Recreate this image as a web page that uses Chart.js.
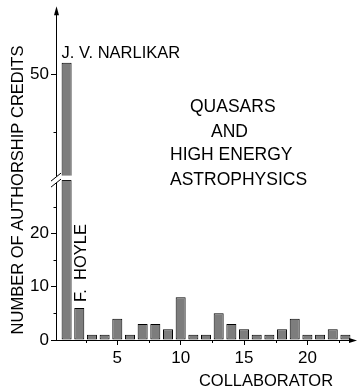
<!DOCTYPE html>
<html>
<head>
<meta charset="utf-8">
<script src="https://cdn.jsdelivr.net/npm/chart.js@4.4.1/dist/chart.umd.min.js"></script>
<style>
  html, body { margin: 0; padding: 0; background: #fff; }
  #wrap { width: 360px; height: 388px; position: relative; }
</style>
</head>
<body>
<div id="wrap"><canvas id="chart"></canvas></div>
<script>
// data
const collaborators = [1, 2, 3, 4, 5, 6, 7, 8, 9, 10, 11, 12, 13, 14, 15, 16, 17, 18, 19, 20, 21, 22, 23];
const credits       = [51, 6, 1, 1, 4, 1, 3, 3, 2, 8, 1, 1, 5, 3, 2, 1, 1, 2, 4, 1, 1, 2, 1];
const xTicks      = [5, 10, 15, 20];
const xMinorTicks = [2.5, 7.5, 12.5, 17.5, 22.5];
const yLowTicks   = [0, 10, 20];
const yLowMinor   = [5, 15, 25];
const yHighTicks  = [50];
const yHighMinor  = [45];
const barLabels   = { 1: 'J. V. NARLIKAR', 2: 'F.  HOYLE' };
const panelText   = ['QUASARS', 'AND', 'HIGH ENERGY', 'ASTROPHYSICS'];

// broken axis: lower part 0..30, upper part 40.8..55.4
const LOW_MAX = 30, HIGH_MIN = 40.8, HIGH_MAX = 55.4;

const FONT = "'Liberation Sans', Arial, Helvetica, sans-serif";
Chart.defaults.font.family = FONT;
Chart.defaults.font.size = 17;
Chart.defaults.color = '#000';

const lowData  = collaborators.map((c, i) => ({ x: c, y: Math.min(credits[i], LOW_MAX) }));
const highData = collaborators
  .map((c, i) => credits[i] > LOW_MAX ? { x: c, y: [HIGH_MIN, credits[i]] } : null)
  .filter(Boolean);

const barStyle = {
  backgroundColor: '#7d7d7d',
  borderColor: '#000',
  borderWidth: 1,
  borderSkipped: false,
  barPercentage: 0.79,
  categoryPercentage: 1,
  grouped: false
};

const axisCommon = {
  offset: false,
  grid: { drawOnChartArea: false, offset: false, tickLength: 5, tickColor: '#000', tickWidth: 1 },
  border: { display: true, color: '#000', width: 1 }
};

const decor = {
  id: 'decor',
  afterDraw(chart) {
    const ctx = chart.ctx;
    const xs = chart.scales.x, yl = chart.scales.y, yh = chart.scales.y2;
    const ax = chart.chartArea.left, bottom = chart.chartArea.bottom;
    ctx.save();
    ctx.strokeStyle = '#000';
    ctx.fillStyle = '#000';
    ctx.lineWidth = 1;

    // minor ticks
    ctx.beginPath();
    yLowMinor.forEach(v => { const p = Math.round(yl.getPixelForValue(v)) + 0.5; ctx.moveTo(ax - 2.5, p); ctx.lineTo(ax, p); });
    yHighMinor.forEach(v => { const p = Math.round(yh.getPixelForValue(v)) + 0.5; ctx.moveTo(ax - 2.5, p); ctx.lineTo(ax, p); });
    xMinorTicks.forEach(v => { const p = Math.round(xs.getPixelForValue(v)) + 0.5; ctx.moveTo(p, bottom); ctx.lineTo(p, bottom + 3); });
    ctx.stroke();

    // axis break
    const brk = yl.top;
    const bar = chart.getDatasetMeta(0).data[0];
    ctx.fillStyle = '#fff';
    ctx.fillRect(bar.x - bar.width / 2 - 1, brk - 4.5, bar.width + 2, 4.5);
    ctx.beginPath();
    ctx.moveTo(ax - 5, brk + 1); ctx.lineTo(ax + 5, brk - 7);
    ctx.lineTo(ax + 5, brk - 1); ctx.lineTo(ax - 5, brk + 7);
    ctx.closePath();
    ctx.fill();
    ctx.beginPath();
    ctx.moveTo(ax - 5, brk + 1); ctx.lineTo(ax + 5, brk - 7);
    ctx.moveTo(ax - 5, brk + 7); ctx.lineTo(ax + 5, brk - 1);
    ctx.stroke();

    // arrows
    ctx.fillStyle = '#000';
    const top = chart.chartArea.top, right = chart.chartArea.right;
    ctx.beginPath(); ctx.moveTo(ax + 0.5, top); ctx.lineTo(ax + 0.5, top - 4); ctx.stroke();
    ctx.beginPath(); ctx.moveTo(ax + 0.5, top - 6); ctx.lineTo(ax - 2, top + 3); ctx.lineTo(ax + 3, top + 3); ctx.closePath(); ctx.fill();
    ctx.beginPath(); ctx.moveTo(right + 5, bottom + 0.5); ctx.lineTo(right - 3, bottom - 2); ctx.lineTo(right - 3, bottom + 3); ctx.closePath(); ctx.fill();
    ctx.beginPath(); ctx.moveTo(right, bottom + 0.5); ctx.lineTo(right + 3, bottom + 0.5); ctx.stroke();

    // bar annotations
    ctx.font = '16.5px ' + FONT;
    ctx.textBaseline = 'alphabetic';
    const b1 = chart.getDatasetMeta(1).data[0];
    ctx.textAlign = 'left';
    ctx.fillText(barLabels[1], b1.x - b1.width / 2, b1.y - 5);
    const b2 = chart.getDatasetMeta(0).data[1];
    ctx.save();
    ctx.translate(b2.x + 6.5, b2.y - 6);
    ctx.rotate(-Math.PI / 2);
    ctx.fillText(barLabels[2], 0, 0);
    ctx.restore();

    // panel text
    ctx.font = '17.5px ' + FONT;
    const px = [190, 211, 170, 170], py = [112, 137, 160, 185];
    panelText.forEach((t, i) => ctx.fillText(t, px[i], py[i]));

    // axis titles
    ctx.font = '16.5px ' + FONT;
    ctx.textAlign = 'center';
    ctx.fillText('COLLABORATOR', 266, 386);
    ctx.save();
    ctx.translate(23, 190);
    ctx.rotate(-Math.PI / 2);
    ctx.fillText('NUMBER OF AUTHORSHIP CREDITS', 0, 0);
    ctx.restore();
    ctx.restore();
  }
};

new Chart(document.getElementById('chart'), {
  type: 'bar',
  data: {
    datasets: [
      Object.assign({ label: 'credits', data: lowData, yAxisID: 'y' }, barStyle),
      Object.assign({ label: 'credits (upper)', data: highData, yAxisID: 'y2' }, barStyle)
    ]
  },
  options: {
    responsive: true,
    maintainAspectRatio: false,
    animation: false,
    layout: { padding: { top: 12, right: 8, left: 0, bottom: 0 } },
    plugins: { legend: { display: false }, tooltip: { enabled: false } },
    scales: {
      x: Object.assign({}, axisCommon, {
        type: 'linear',
        min: 0.163, max: 23.52,
        afterBuildTicks: s => { s.ticks = xTicks.map(v => ({ value: v })); },
        afterFit: s => { s.height = 48; },
        ticks: { padding: 3 }
      }),
      y: Object.assign({}, axisCommon, {
        type: 'linear',
        position: 'left',
        stack: 'credits',
        stackWeight: 160,
        min: 0, max: LOW_MAX,
        afterBuildTicks: s => { s.ticks = yLowTicks.map(v => ({ value: v })); },
        afterFit: s => { s.width = 56; },
        ticks: { padding: 2 }
      }),
      y2: Object.assign({}, axisCommon, {
        type: 'linear',
        position: 'left',
        stack: 'credits',
        stackWeight: 168,
        min: HIGH_MIN, max: HIGH_MAX,
        afterBuildTicks: s => { s.ticks = yHighTicks.map(v => ({ value: v })); },
        afterFit: s => { s.width = 56; },
        ticks: { padding: 2 }
      })
    }
  },
  plugins: [decor]
});
</script>
</body>
</html>
